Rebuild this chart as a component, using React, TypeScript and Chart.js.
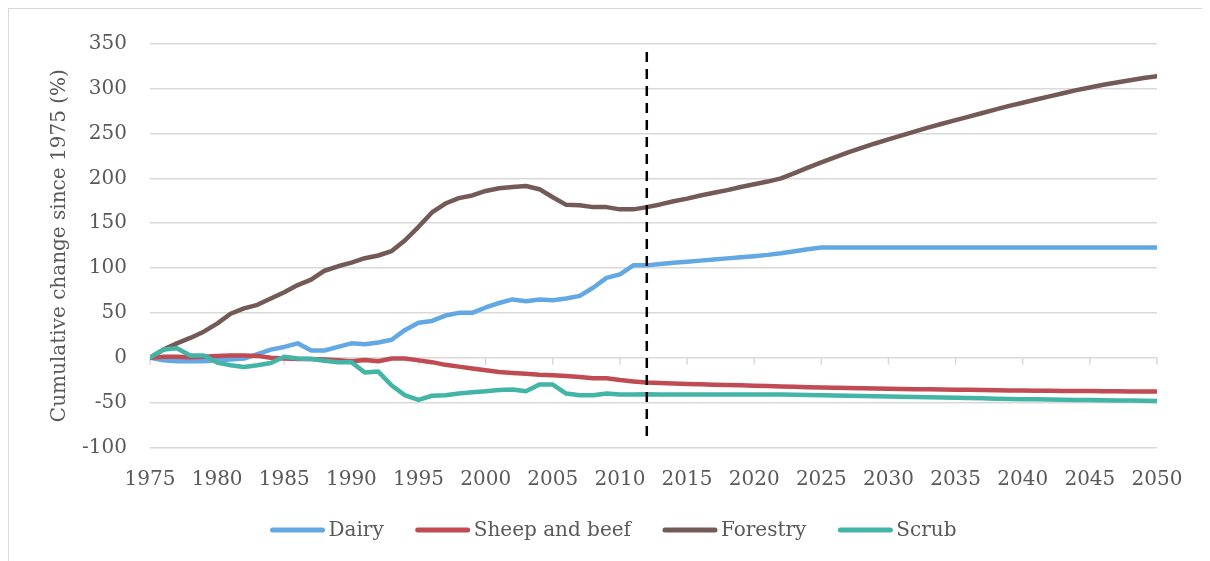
import React, { useEffect, useRef } from "react";
import { Chart, registerables } from "chart.js";

Chart.register(...registerables);

const years = [
  1975, 1976, 1977, 1978, 1979, 1980, 1981, 1982, 1983, 1984,
  1985, 1986, 1987, 1988, 1989, 1990, 1991, 1992, 1993, 1994,
  1995, 1996, 1997, 1998, 1999, 2000, 2001, 2002, 2003, 2004,
  2005, 2006, 2007, 2008, 2009, 2010, 2011, 2012, 2013, 2014,
  2015, 2016, 2017, 2018, 2019, 2020, 2021, 2022, 2023, 2024,
  2025, 2026, 2027, 2028, 2029, 2030, 2031, 2032, 2033, 2034,
  2035, 2036, 2037, 2038, 2039, 2040, 2041, 2042, 2043, 2044,
  2045, 2046, 2047, 2048, 2049, 2050,
];

const dairy = [
  0, -3, -4, -4, -4, -3, -2, -1, 4, 9,
  12, 16, 8, 8, 12, 16, 15, 17, 20, 31,
  39, 41, 47, 50, 50, 56, 61, 65, 63, 65,
  64, 66, 69, 78, 89, 93, 103, 103, 104.5, 105.8,
  107, 108.3, 109.5, 110.8, 112, 113.3, 114.7, 116.5, 118.8, 121,
  123, 123, 123, 123, 123, 123, 123, 123, 123, 123,
  123, 123, 123, 123, 123, 123, 123, 123, 123, 123,
  123, 123, 123, 123, 123, 123,
];

const sheepBeef = [
  0, 1, 1, 0.5, 1, 2, 2.5, 2.5, 2, 0,
  -1, -1.5, -1.5, -2, -3, -4, -2.5, -4, -1, -1,
  -3, -5, -8, -10, -12, -14, -16, -17, -18, -19,
  -19.5, -20.5, -21.5, -23, -23, -25, -26.5, -27.8, -28.3, -28.8,
  -29.3, -29.7, -30.1, -30.5, -30.9, -31.3, -31.7, -32.1, -32.5, -32.9,
  -33.2, -33.5, -33.8, -34.1, -34.4, -34.7, -34.9, -35.1, -35.3, -35.5,
  -35.7, -35.9, -36.1, -36.3, -36.5, -36.7, -36.9, -37.0, -37.1, -37.2,
  -37.3, -37.4, -37.5, -37.6, -37.7, -37.8,
];

const forestry = [
  0, 9, 16, 22, 29, 38, 49, 55, 59, 66,
  73, 81, 87, 97, 102, 106, 111, 114, 119, 131,
  146, 162, 172, 178, 181, 186, 189, 190.5, 191.5, 188,
  179, 170.5, 170, 168, 168, 165.5, 165.5, 168, 171, 174.5,
  177.5, 181, 184, 187, 190.5, 193.5, 196.5, 200, 206, 212,
  218, 223.5, 229, 234, 239, 243.5, 248, 252.5, 257, 261,
  265, 269, 273, 277, 281, 284.5, 288, 291.5, 295, 298.5,
  301.5, 304.5, 307, 309.5, 312, 314,
];

const scrub = [
  0, 9, 10.5, 2.5, 2.5, -5.5, -8.5, -10.5, -8.5, -6,
  1, -1, -1.5, -3.5, -5, -5, -16.5, -15.5, -31, -42,
  -47, -42.5, -42, -40, -38.5, -37.5, -36, -35.6, -37.5, -30,
  -30, -40, -42, -42, -40, -41, -41, -40.8, -41, -41,
  -41, -41, -41, -41, -41, -41, -41.1, -41.2, -41.4, -41.6,
  -41.8, -42.1, -42.4, -42.7, -43, -43.3, -43.6, -43.9, -44.2, -44.5,
  -44.8, -45.1, -45.4, -45.7, -46, -46.3, -46.5, -46.7, -46.9, -47.1,
  -47.3, -47.5, -47.7, -47.9, -48, -48.2,
];

const seriesLabels = ["Dairy", "Sheep and beef", "Forestry", "Scrub"];
const xTickYears = [1975, 1980, 1985, 1990, 1995, 2000, 2005, 2010, 2015, 2020, 2025, 2030, 2035, 2040, 2045, 2050];
const yTickValues = [-100, -50, 0, 50, 100, 150, 200, 250, 300, 350];
const projectionYear = 2012;
const projectionLineTop = 341;
const projectionLineBottom = -92;
const yTitle = "Cumulative change since 1975 (%)";

const FONT = '"DejaVu Serif", serif';
const TEXT = "#595959";
const GRID = "#d9d9d9";
const COLORS = ["#62a9e3", "#c04b53", "#735a56", "#42b5a6"];

const zeroTicksPlugin = {
  id: "zeroTicks",
  beforeDatasetsDraw(chart: any) {
    const { ctx, scales } = chart;
    const x = scales.x;
    const y0 = scales.y.getPixelForValue(0);
    ctx.save();
    ctx.strokeStyle = GRID;
    ctx.lineWidth = 1.5;
    ctx.beginPath();
    xTickYears.forEach((yr) => {
      const px = x.getPixelForValue(yr);
      ctx.moveTo(px, y0);
      ctx.lineTo(px, y0 + 7);
    });
    ctx.stroke();
    ctx.restore();
  },
};

const projectionPlugin = {
  id: "projectionLine",
  afterDatasetsDraw(chart: any) {
    const { ctx, scales } = chart;
    const px = scales.x.getPixelForValue(projectionYear);
    const top = scales.y.getPixelForValue(projectionLineTop);
    const bottom = scales.y.getPixelForValue(projectionLineBottom);
    ctx.save();
    ctx.strokeStyle = "#000000";
    ctx.lineWidth = 2.5;
    ctx.setLineDash([10, 7]);
    ctx.beginPath();
    ctx.moveTo(px, top);
    ctx.lineTo(px, bottom);
    ctx.stroke();
    ctx.restore();
  },
};

const legendPlugin = {
  id: "customLegend",
  afterDraw(chart: any) {
    const { ctx } = chart;
    ctx.save();
    ctx.font = `20px ${FONT}`;
    const lineW = 54;
    const gapText = 4;
    const gapItem = 32;
    const items = chart.data.datasets.map((ds: any) => ({
      label: ds.label,
      color: ds.borderColor,
      w: ctx.measureText(ds.label).width,
    }));
    const total =
      items.reduce((s: number, it: any) => s + lineW + gapText + it.w, 0) +
      gapItem * (items.length - 1);
    let x = 604.5 - total / 2;
    const y = 521;
    ctx.textBaseline = "middle";
    ctx.textAlign = "left";
    items.forEach((it: any) => {
      ctx.strokeStyle = it.color;
      ctx.lineWidth = 5;
      ctx.lineCap = "round";
      ctx.beginPath();
      ctx.moveTo(x + 2, y);
      ctx.lineTo(x + lineW - 2, y);
      ctx.stroke();
      ctx.fillStyle = TEXT;
      ctx.fillText(it.label, x + lineW + gapText, y + 1);
      x += lineW + gapText + it.w + gapItem;
    });
    ctx.restore();
  },
};

export default function App() {
  const canvasRef = useRef<HTMLCanvasElement | null>(null);

  useEffect(() => {
    if (!canvasRef.current) return;
    const seriesValues = [dairy, sheepBeef, forestry, scrub];
    const chart = new Chart(canvasRef.current, {
      type: "line",
      data: {
        datasets: seriesValues.map((vals, i) => ({
          label: seriesLabels[i],
          data: years.map((yr, j) => ({ x: yr, y: vals[j] })),
          borderColor: COLORS[i],
          backgroundColor: COLORS[i],
          borderWidth: 4.5,
          pointRadius: 0,
          tension: 0,
          borderJoinStyle: "round",
          borderCapStyle: "round",
          order: 4 - i,
        })),
      },
      options: {
        animation: false,
        responsive: true,
        maintainAspectRatio: false,
        layout: { padding: { left: 0, right: 53, top: 28.5, bottom: 63.7 } },
        plugins: {
          legend: { display: false },
          tooltip: { enabled: false },
        },
        scales: {
          x: {
            type: "linear",
            min: 1975,
            max: 2050,
            afterBuildTicks: (scale: any) => {
              scale.ticks = xTickYears.map((v) => ({ value: v }));
            },
            afterFit: (scale: any) => {
              scale.height = 50;
            },
            grid: { display: false, drawTicks: false },
            border: { display: false },
            ticks: {
              color: TEXT,
              font: { family: FONT, size: 20 },
              padding: 20,
              maxRotation: 0,
              autoSkip: false,
              callback: (v: any) => String(v),
            },
          },
          y: {
            min: -100,
            max: 350,
            afterBuildTicks: (scale: any) => {
              scale.ticks = yTickValues.map((v) => ({ value: v }));
            },
            afterFit: (scale: any) => {
              scale.width = 141;
            },
            grid: { color: GRID, lineWidth: 1.5, drawTicks: false },
            border: { display: false },
            ticks: {
              color: TEXT,
              font: { family: FONT, size: 20 },
              padding: 23,
              callback: (v: any) => String(v),
            },
            title: {
              display: true,
              text: yTitle,
              color: TEXT,
              font: { family: FONT, size: 20 },
              padding: { top: 38.5, bottom: 0 },
            },
          },
        },
      },
      plugins: [zeroTicksPlugin, projectionPlugin, legendPlugin],
    });
    return () => chart.destroy();
  }, []);

  return (
    <div
      style={{
        width: 1201,
        height: 552,
        borderLeft: "1px solid #d9d9d9",
        borderTop: "1px solid #d9d9d9",
        position: "relative",
      }}
    >
      <canvas ref={canvasRef} />
    </div>
  );
}
